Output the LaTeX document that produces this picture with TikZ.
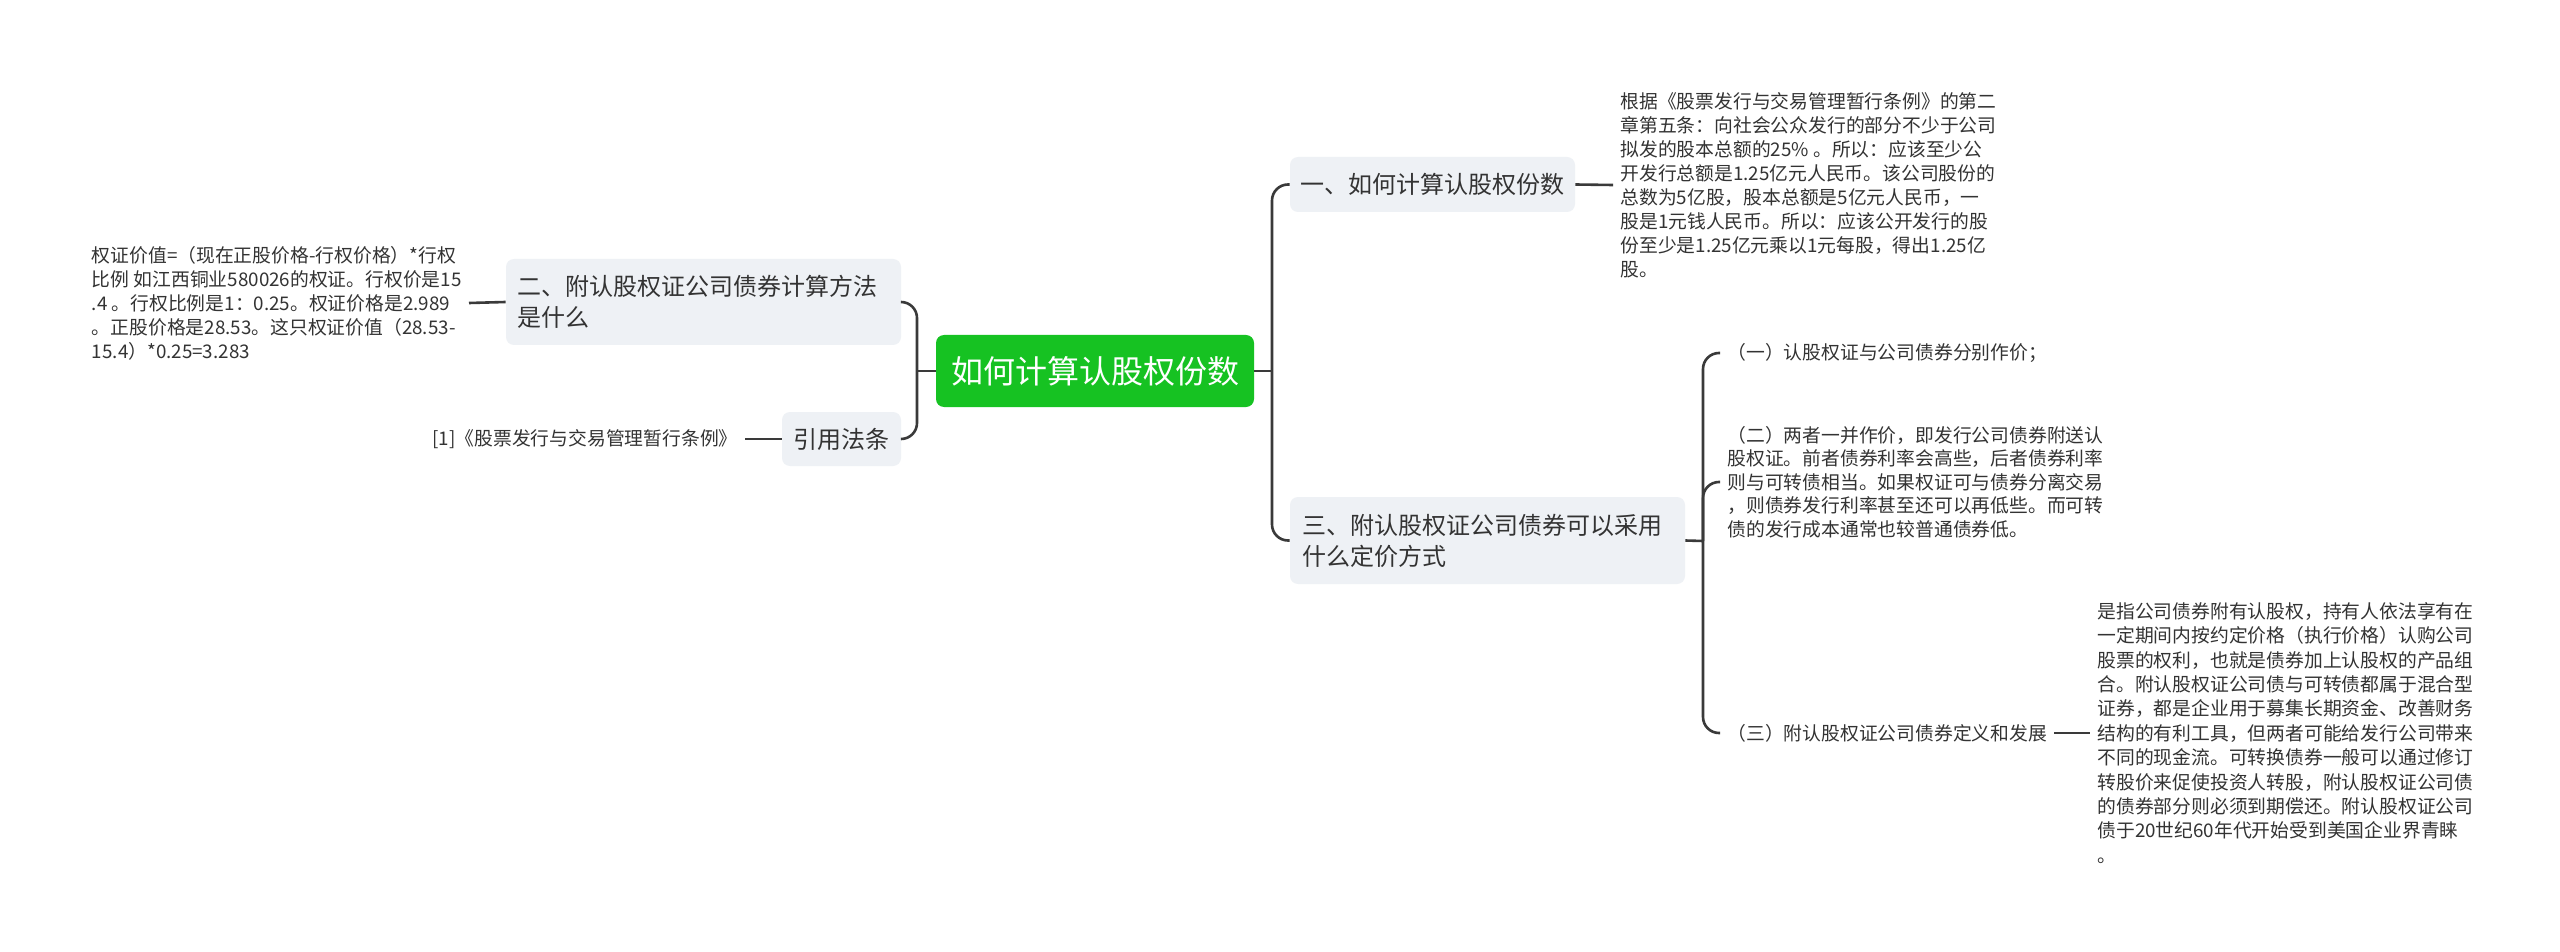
\documentclass[tikz,border=0pt]{standalone}
\usepackage{fontspec}
\setmainfont{Noto Sans CJK SC}
\usetikzlibrary{calc}
\definecolor{boxfill}{HTML}{EEF1F5}
\definecolor{rootgreen}{RGB}{22,194,34}
\definecolor{txt}{HTML}{333333}
\definecolor{ln}{HTML}{3A3A3A}
\begin{document}
\begin{tikzpicture}[x=0.5pt,y=-0.5pt,
  conn/.style={draw=ln,line width=1.3pt,rounded corners=8pt},
  topicbox/.style={fill=boxfill,rounded corners=4pt,text=txt,inner xsep=0pt,inner ysep=0pt,
    font=\fontsize{12}{15.5}\selectfont},
  rootbox/.style={fill=rootgreen,rounded corners=4pt,text=white,inner sep=0pt,
    font=\fontsize{16}{20}\selectfont,minimum width=159pt,minimum height=36pt},
  leaf/.style={text=txt,inner xsep=3.5pt,inner ysep=0pt,align=left,
    font=\fontsize{9.4}{12}\selectfont}
]
\useasboundingbox[fill=white] (0,0) rectangle (2560,952);

% root
\node[rootbox] (root) at (1095,371) {如何计算认股权份数};

% left side
\node[topicbox,minimum width=197.5pt,minimum height=43pt,text width=186.5pt,align=left]
  (n2) at (703.5,302) {二、附认股权证公司债券计算方法\\是什么};
\node[topicbox,minimum width=59.5pt,minimum height=27pt,align=center]
  (cite) at (841.5,439) {引用法条};
\node[leaf,anchor=east] (lv) at (469,303) {权证价值=（现在正股价格-行权价格）*行权\\比例 如江西铜业580026的权证。行权价是15\\.4 。行权比例是1：0.25。权证价格是2.989\\。正股价格是28.53。这只权证价值（28.53-\\15.4）*0.25=3.283};
\node[leaf,anchor=east] (lc) at (745,439) {[1]《股票发行与交易管理暂行条例》};

\coordinate (tL) at (917,371);
\draw[conn] (n2.east) -| (tL) |- (cite.east);
\draw[conn] (root.west) -- (tL);
\draw[conn] (lv.east) -- (n2.west);
\draw[conn] (lc.east) -- (cite.west);

% right side
\node[topicbox,minimum width=142.5pt,minimum height=27.5pt,align=center]
  (n1) at (1432.5,184.5) {一、如何计算认股权份数};
\node[topicbox,minimum width=197.5pt,minimum height=43.5pt,text width=185.5pt,align=left]
  (n3) at (1487.5,540.5) {三、附认股权证公司债券可以采用\\什么定价方式};

\coordinate (tR) at (1272,371);
\draw[conn] (n1.west) -| (tR) |- (n3.west);
\draw[conn] (root.east) -- (tR);

\node[leaf,anchor=west] (b1) at (1613,185) {根据《股票发行与交易管理暂行条例》的第二\\章第五条：向社会公众发行的部分不少于公司\\拟发的股本总额的25\% 。所以：应该至少公\\开发行总额是1.25亿元人民币。该公司股份的\\总数为5亿股，股本总额是5亿元人民币，一\\股是1元钱人民币。所以：应该公开发行的股\\份至少是1.25亿元乘以1元每股，得出1.25亿\\股。};
\draw[conn] (n1.east) -- (b1.west);

\node[leaf,anchor=west] (c1) at (1720,353) {（一）认股权证与公司债券分别作价；};
\node[leaf,anchor=west,font=\fontsize{9.4}{11.7}\selectfont] (c2) at (1720,482) {（二）两者一并作价，即发行公司债券附送认\\股权证。前者债券利率会高些，后者债券利率\\则与可转债相当。如果权证可与债券分离交易\\，则债券发行利率甚至还可以再低些。而可转\\债的发行成本通常也较普通债券低。};
\node[leaf,anchor=west] (c3) at (1720,733) {（三）附认股权证公司债券定义和发展};

\coordinate (tR2) at (1703,541);
\draw[conn] (n3.east) -- (tR2);
\draw[conn] (c1.west) -| (tR2) |- (c3.west);
\draw[conn] (tR2) |- (c2.west);

\node[leaf,anchor=west,font=\fontsize{9.4}{12.2}\selectfont] (b3) at (2090,733) {是指公司债券附有认股权，持有人依法享有在\\一定期间内按约定价格（执行价格）认购公司\\股票的权利，也就是债券加上认股权的产品组\\合。附认股权证公司债与可转债都属于混合型\\证券，都是企业用于募集长期资金、改善财务\\结构的有利工具，但两者可能给发行公司带来\\不同的现金流。可转换债券一般可以通过修订\\转股价来促使投资人转股，附认股权证公司债\\的债券部分则必须到期偿还。附认股权证公司\\债于20世纪60年代开始受到美国企业界青睐\\。};
\draw[conn] (c3.east) -- (b3.west);
\end{tikzpicture}
\end{document}
